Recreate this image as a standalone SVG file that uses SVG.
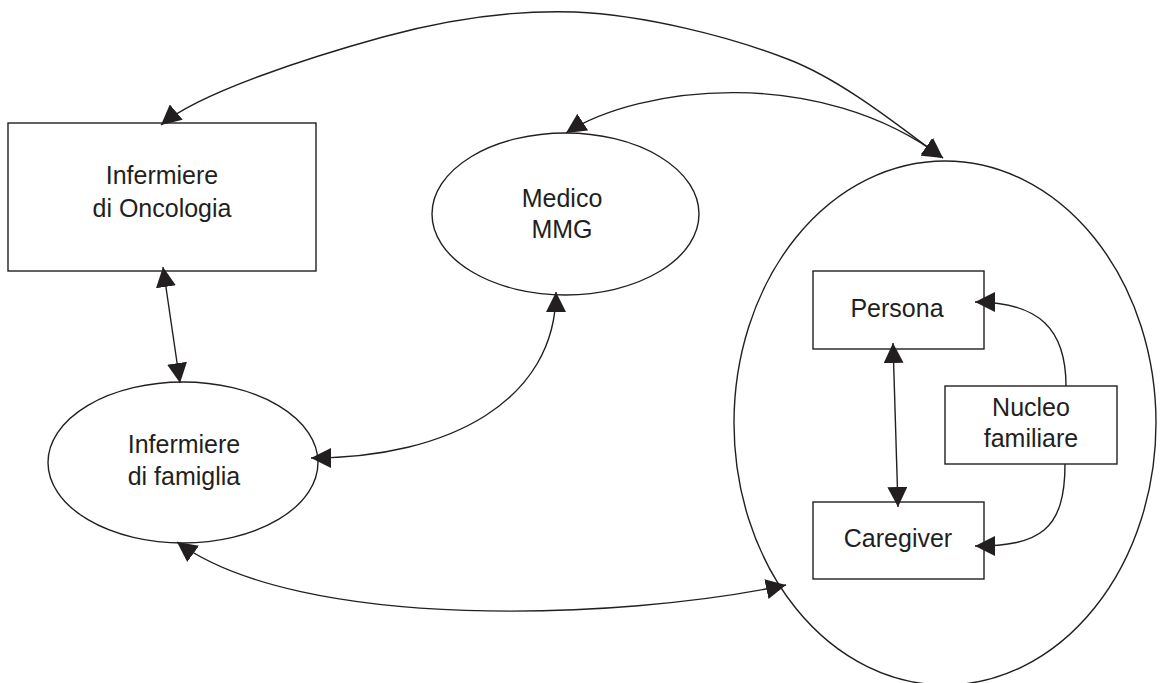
<svg xmlns="http://www.w3.org/2000/svg" width="1160" height="683" viewBox="0 0 1160 683">
<defs>
<style>
.shape{fill:none;stroke:#231f20;stroke-width:1.4}
.conn{fill:none;stroke:#231f20;stroke-width:1.4;marker-end:url(#ah)}
.both{marker-start:url(#ah)}
text{font-family:"Liberation Sans",Arial,sans-serif;font-size:25px;fill:#231f20;text-anchor:middle}
</style>
<marker id="ah" viewBox="0 0 20 20" refX="20" refY="10" markerWidth="20" markerHeight="20" markerUnits="userSpaceOnUse" orient="auto-start-reverse">
<path d="M0,0 L20,10 L0,20 z" fill="#231f20"/>
</marker>
</defs>
<rect width="1160" height="683" fill="#fff"/>
<g id="oncologia">
<rect class="shape" x="8" y="123" width="308" height="148"/>
<text x="162" y="184">Infermiere</text>
<text x="162" y="217">di Oncologia</text>
</g>
<g id="medico">
<ellipse class="shape" cx="565.5" cy="214" rx="133.5" ry="81"/>
<text x="562" y="207">Medico</text>
<text x="562" y="238">MMG</text>
</g>
<g id="famiglia">
<ellipse class="shape" cx="183" cy="462.5" rx="135" ry="80.5"/>
<text x="184" y="453">Infermiere</text>
<text x="184" y="485">di famiglia</text>
</g>
<g id="contesto">
<ellipse class="shape" cx="945" cy="423" rx="211" ry="262"/>
</g>
<g id="persona">
<rect class="shape" x="813" y="271" width="171" height="78"/>
<text x="897" y="317">Persona</text>
</g>
<g id="caregiver">
<rect class="shape" x="813" y="502" width="171" height="77"/>
<text x="898" y="547">Caregiver</text>
</g>
<g id="nucleo">
<rect class="shape" x="945" y="386" width="172" height="78"/>
<text x="1031" y="416">Nucleo</text>
<text x="1031" y="447">familiare</text>
</g>
<g id="connectors">
<path class="conn both" d="M161,125 C200,92 314,56 383,37 C452,18 515,10 575,12 C643,15 729,36 790,60 C851,84 918,142 943,158"/>
<path class="conn both" d="M566,133 C640,85 820,65 943,158"/>
<path class="conn both" d="M163,267 L180,383"/>
<path class="conn both" d="M556,292 C556,400 450,458 311,458"/>
<path class="conn both" d="M177,542 C300,632 620,620 786,585"/>
<path class="conn both" d="M893,343 L898,507"/>
<path class="conn" d="M1066,386 C1066,330 1040,302 975,302"/>
<path class="conn" d="M1065,464 C1065,530 1040,546 975,546"/>
</g>
</svg>
